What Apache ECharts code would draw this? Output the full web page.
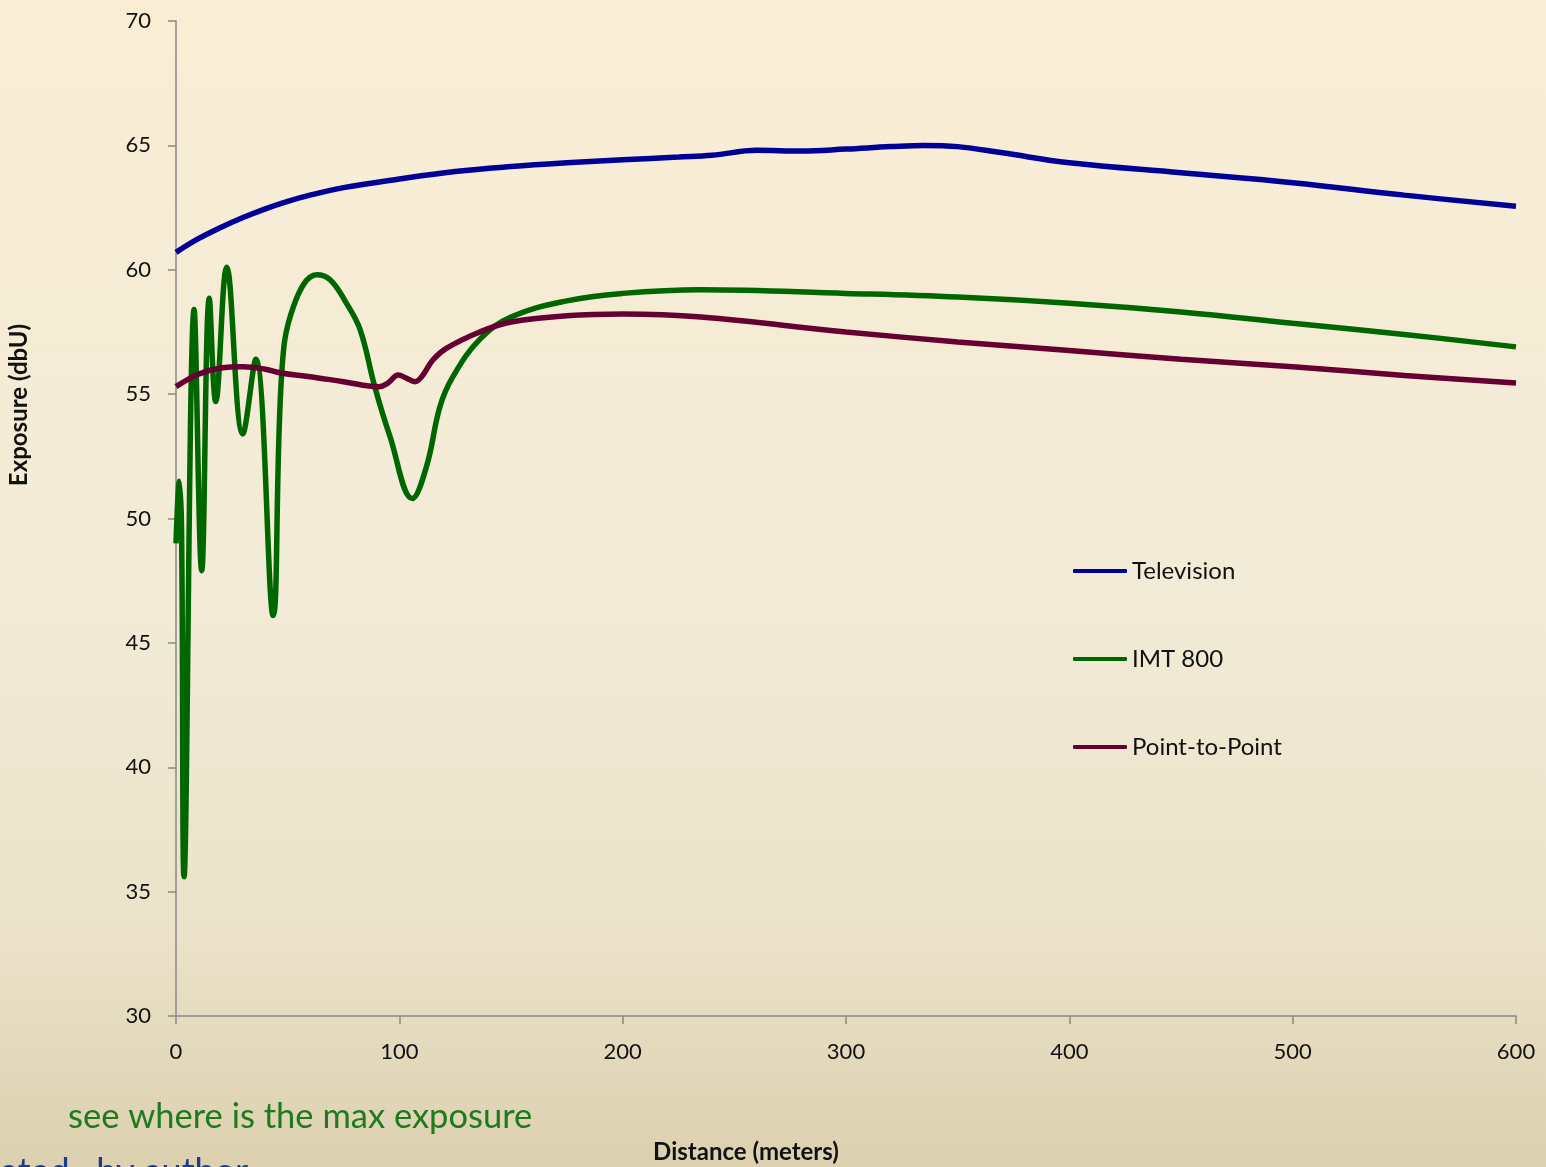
<!DOCTYPE html>
<html>
<head>
<meta charset="utf-8">
<script src="https://cdn.jsdelivr.net/npm/echarts@6/dist/echarts.min.js"></script>
<style>
  html, body { margin: 0; padding: 0; background: #F2EAD6; }
  #chart { width: 1546px; height: 1167px; }
</style>
</head>
<body>
<div id="chart"></div>
<script>
// ---- Data ----
const tvDist   = [0, 10, 20, 30, 40, 50, 60, 75, 100, 125, 150, 175, 200, 225, 240, 260, 280, 300, 320, 335, 350, 370, 400, 450, 500, 550, 600];
const tvValues = [60.7, 61.25, 61.7, 62.1, 62.45, 62.75, 63.0, 63.3, 63.65, 63.95, 64.15, 64.3, 64.42, 64.53, 64.6, 64.8, 64.77, 64.85, 64.95, 65.0, 64.95, 64.7, 64.3, 63.9, 63.5, 63.0, 62.55];

const imtDist   = [0, 1.5, 2.5, 3.6, 8.1, 11.5, 14.9, 17.8, 22.7, 29.9, 35.7, 43.5, 47.3, 52.5, 63, 69, 76, 82.4, 89, 95.8, 105.8, 112.2, 118.2, 124, 136, 150, 175, 200, 235, 300, 350, 400, 450, 500, 550, 600];
const imtValues = [49.0, 51.5, 49.5, 35.6, 58.4, 47.9, 58.85, 54.7, 60.1, 53.4, 56.4, 46.1, 55.8, 58.5, 59.8, 59.6, 58.7, 57.6, 55.3, 53.3, 50.8, 52.1, 54.5, 55.7, 57.2, 58.1, 58.75, 59.05, 59.2, 59.05, 58.9, 58.65, 58.3, 57.85, 57.4, 56.9];

const p2pDist   = [0, 10, 20, 30, 40, 47, 60, 75, 91, 95, 99.5, 103, 107, 110, 115, 121, 136, 150, 175, 200, 235, 300, 350, 400, 450, 500, 550, 600];
const p2pValues = [55.3, 55.8, 56.05, 56.1, 56.0, 55.85, 55.7, 55.5, 55.3, 55.45, 55.77, 55.65, 55.5, 55.7, 56.37, 56.84, 57.5, 57.9, 58.15, 58.22, 58.1, 57.5, 57.1, 56.75, 56.4, 56.1, 55.75, 55.45];

const seriesNames = ['Television', 'IMT 800', 'Point-to-Point'];
const xTicks = [0, 100, 200, 300, 400, 500, 600];
const yTicks = [30, 35, 40, 45, 50, 55, 60, 65, 70];

const pairs = (xs, ys) => xs.map((x, i) => [x, ys[i]]);

const chart = echarts.init(document.getElementById('chart'), null, { renderer: 'canvas' });
const font = 'Lato, "Open Sans", "Liberation Sans", sans-serif';

const option = {
  animation: false,
  backgroundColor: {
    type: 'linear', x: 0, y: 0, x2: 0, y2: 1,
    colorStops: [
      { offset: 0, color: '#FAEDD4' },
      { offset: 0.5, color: '#F2EBD7' },
      { offset: 0.8, color: '#EBE2C9' },
      { offset: 1, color: '#DCD0AF' }
    ]
  },
  textStyle: { fontFamily: font },
  grid: { left: 176, right: 30, top: 21, bottom: 151, containLabel: false },
  legend: {
    orient: 'vertical',
    left: 1068,
    top: 552,
    icon: 'roundRect',
    itemWidth: 54,
    itemHeight: 4,
    itemGap: 60,
    textStyle: { fontFamily: font, fontSize: 24, color: '#111', lineHeight: 28 },
    data: seriesNames
  },
  xAxis: {
    type: 'value',
    min: 0, max: 600, interval: 100,
    axisLine: { show: true, lineStyle: { color: '#888', width: 1.5 } },
    axisTick: { show: true, length: 8, lineStyle: { color: '#888', width: 1.5 } },
    splitLine: { show: false },
    axisLabel: {
      margin: 25, fontSize: 22, color: '#111', fontFamily: font,
      formatter: v => xTicks.includes(v) ? String(v) : ''
    }
  },
  yAxis: {
    type: 'value',
    min: 30, max: 70, interval: 5,
    axisLine: { show: true, lineStyle: { color: '#888', width: 1.5 } },
    axisTick: { show: true, length: 8, lineStyle: { color: '#888', width: 1.5 } },
    splitLine: { show: false },
    axisLabel: {
      margin: 25, fontSize: 22, color: '#111', fontFamily: font,
      formatter: v => yTicks.includes(v) ? String(v) : ''
    }
  },
  graphic: [
    {
      type: 'text', x: 19, y: 405, rotation: Math.PI / 2,
      style: { text: 'Exposure (dbU)', font: 'bold 24px ' + font, fill: '#111', textAlign: 'center', textVerticalAlign: 'middle' }
    },
    {
      type: 'text', x: 746, y: 1152,
      style: { text: 'Distance (meters)', font: 'bold 24px ' + font, fill: '#111', textAlign: 'center', textVerticalAlign: 'middle' }
    },
    {
      type: 'text', x: 68, y: 1117,
      style: { text: 'see where is the max exposure', font: '34.5px ' + font, fill: '#1E7A1E', textAlign: 'left', textVerticalAlign: 'middle' }
    },
    {
      type: 'text', x: 0, y: 1172,
      style: { text: 'ated,  by author', font: '36px ' + font, fill: '#1F3A8A', textAlign: 'left', textVerticalAlign: 'middle' }
    }
  ],
  series: [
    {
      name: seriesNames[0], type: 'line', smooth: 0.4, showSymbol: false, symbol: 'none',
      lineStyle: { color: '#000099', width: 5.5 }, itemStyle: { color: '#000099' },
      data: pairs(tvDist, tvValues)
    },
    {
      name: seriesNames[1], type: 'line', smooth: 0.4, showSymbol: false, symbol: 'none',
      lineStyle: { color: '#006600', width: 5.5 }, itemStyle: { color: '#006600' },
      data: pairs(imtDist, imtValues)
    },
    {
      name: seriesNames[2], type: 'line', smooth: 0.4, showSymbol: false, symbol: 'none',
      lineStyle: { color: '#660033', width: 5.5 }, itemStyle: { color: '#660033' },
      data: pairs(p2pDist, p2pValues)
    }
  ]
};
chart.setOption(option);
</script>
</body>
</html>
